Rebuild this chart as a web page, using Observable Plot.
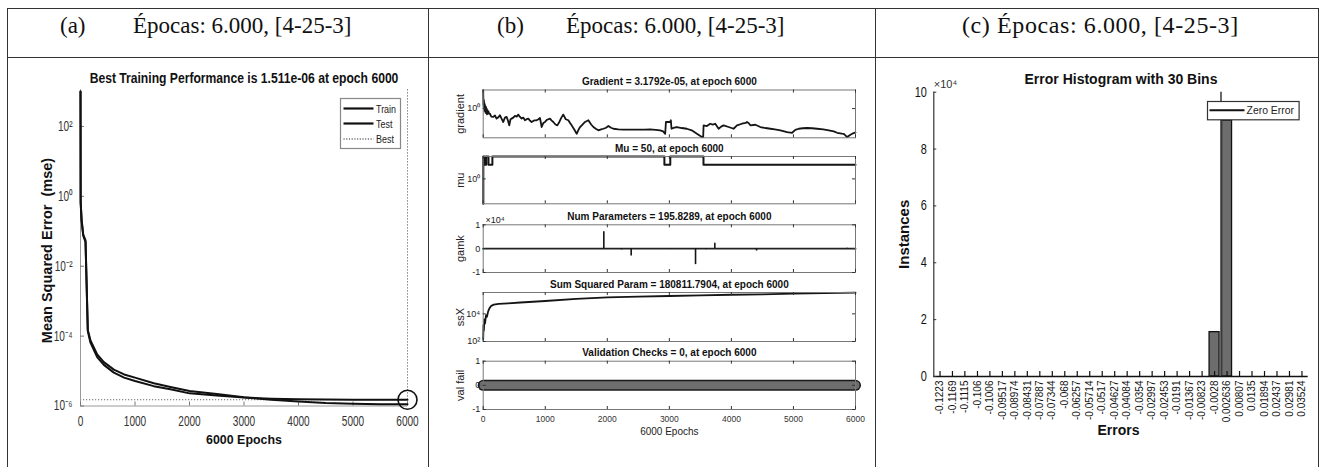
<!DOCTYPE html>
<html>
<head>
<meta charset="utf-8">
<script src="https://cdn.jsdelivr.net/npm/d3@7"></script>
<script src="https://cdn.jsdelivr.net/npm/@observablehq/plot@0.6"></script>
<style>
  html, body { margin: 0; padding: 0; background: #fff; }
  #page { position: relative; width: 1320px; height: 467px; overflow: hidden; background: #fff; }
  .layer { position: absolute; left: 0; top: 0; }
  .hline { position: absolute; height: 0; border-top: 1px solid #333; }
  .vline { position: absolute; width: 0; border-left: 1px solid #333; }
  .head { position: absolute; font-family: "Liberation Serif", "Times New Roman", serif; font-size: 23px; line-height: 26px; color: #111; white-space: nowrap; }
  .leg { position: absolute; }
</style>
</head>
<body>
<div id="page"></div>
<script>
// ================= DATA =================
const panelTags = ["(a)", "(b)", "(c)"];
const panelCaption = "Épocas: 6.000, [4-25-3]";

// ---- (a) training performance ----
const perfTitle = "Best Training Performance is 1.511e-06 at epoch 6000";
const perfYLabel = "Mean Squared Error\u00a0 (mse)";
const perfXLabel = "6000 Epochs";
const perfLegend = ["Train", "Test", "Best"];
const perfEpochs = [0, 3, 20, 50, 92, 134, 183, 306, 428, 612, 800, 1000, 1345, 1650, 2000, 2500, 3000, 3500, 4000, 4500, 5000, 5500, 6000];
const trainPerf  = [1000, 0.65, 0.2, 0.075, 0.05, 1.4e-4, 6.5e-5, 2.5e-5, 1.5e-5, 9e-6, 6.5e-6, 5.2e-6, 3.7e-6, 3e-6, 2.3e-6, 2e-6, 1.75e-6, 1.62e-6, 1.55e-6, 1.53e-6, 1.52e-6, 1.515e-6, 1.511e-6];
const testPerf   = [1000, 0.7, 0.22, 0.08, 0.055, 1.5e-4, 7.5e-5, 3e-5, 1.8e-5, 1.1e-5, 8e-6, 6.5e-6, 4.5e-6, 3.5e-6, 2.7e-6, 2.2e-6, 1.78e-6, 1.5e-6, 1.35e-6, 1.22e-6, 1.16e-6, 1.13e-6, 1.12e-6];
const bestEpoch = 6000;
const bestPerf = 1.511e-6;
const perfYTicks = [1e2, 1e0, 1e-2, 1e-4, 1e-6];
const perfYTickLabels = ["10²", "10⁰", "10⁻²", "10⁻⁴", "10⁻⁶"];
const epochTicks = [0, 1000, 2000, 3000, 4000, 5000, 6000];

// ---- (b) training state ----
const stateTitles = [
  "Gradient = 3.1792e-05, at epoch 6000",
  "Mu = 50, at epoch 6000",
  "Num Parameters = 195.8289, at epoch 6000",
  "Sum Squared Param = 180811.7904, at epoch 6000",
  "Validation Checks = 0, at epoch 6000"
];
const stateYLabels = ["gradient", "mu", "gamk", "ssX", "val fail"];
const stateXLabel = "6000 Epochs";

const gradEpochs = [0, 2, 4, 6, 9, 12, 15, 18, 22, 26, 30, 35, 40, 45, 50, 56, 62, 68, 75, 85, 95, 108, 130, 161, 190, 215, 240, 269, 300, 323, 350, 377, 400, 420, 440, 457, 485, 511, 540, 565, 590, 619, 645, 673, 700, 727, 755, 780, 820, 861, 890, 915, 942, 970, 996, 1030, 1076, 1100, 1130, 1165, 1195, 1227, 1260, 1291, 1330, 1372, 1400, 1426, 1470, 1507, 1535, 1561, 1600, 1641, 1695, 1740, 1776, 1820, 1857, 1900, 1937, 1980, 2018, 2060, 2099, 2180, 2260, 2400, 2600, 2691, 2780, 2852, 2900, 2933, 2945, 3013, 3024, 3035, 3080, 3121, 3200, 3282, 3360, 3444, 3525, 3545, 3552, 3605, 3659, 3700, 3740, 3794, 3835, 3874, 3955, 4035, 4090, 4170, 4230, 4251, 4280, 4305, 4386, 4466, 4550, 4628, 4700, 4789, 4897, 4978, 5030, 5085, 5150, 5220, 5300, 5381, 5480, 5570, 5650, 5704, 5780, 5812, 5865, 5919, 5960, 6000];
const gradValues = [3000, 80, 5, 60, 1.5, 30, 0.8, 12, 0.4, 6, 0.3, 3, 0.15, 2, 0.2, 1, 0.08, 0.5, 0.12, 0.3, 0.1, 0.11, 0.03, 0.027, 0.05, 0.013, 0.02, 0.056, 0.01, 0.003, 0.02, 0.027, 0.005, 7e-4, 0.01, 0.013, 0.02, 0.042, 0.03, 0.074, 0.03, 0.013, 0.02, 0.0063, 0.01, 0.013, 0.005, 0.003, 0.006, 0.0063, 0.01, 0.017, 3.4e-4, 0.002, 0.003, 0.008, 0.013, 0.006, 0.003, 0.001, 7e-4, 0.003, 0.02, 0.074, 0.01, 0.0063, 0.002, 7e-4, 1e-4, 1.8e-5, 1e-4, 3.4e-4, 0.001, 0.003, 0.0063, 0.001, 3.4e-4, 1.5e-4, 8e-5, 1.2e-4, 1.6e-4, 2.5e-4, 5.2e-4, 2.5e-4, 1.6e-4, 1.2e-4, 1.05e-4, 1.05e-4, 1.1e-4, 1.2e-4, 1e-4, 8e-5, 5e-5, 1.8e-5, 0.003, 0.003, 0.0063, 1.6e-4, 2.5e-4, 3.4e-4, 2.2e-4, 1.6e-4, 8e-5, 1.8e-5, 4.3e-6, 4.3e-6, 7e-4, 5.2e-4, 0.0014, 0.001, 0.0014, 1.6e-4, 4e-4, 7e-4, 3.4e-4, 1.6e-4, 7e-4, 0.0014, 0.002, 0.003, 0.0018, 7e-4, 9e-4, 3.4e-4, 2.2e-4, 1.6e-4, 1.2e-4, 8e-5, 3.8e-5, 2.8e-5, 1e-4, 1.6e-4, 2e-4, 2.2e-4, 2e-4, 1.6e-4, 1.2e-4, 8e-5, 5e-5, 2.8e-5, 2e-5, 1.8e-5, 4.3e-6, 1.2e-5, 2.2e-5, 3.18e-5];
const gradTicks = [1];
const gradTickLabels = ["10⁰"];

const muEpochs = [0, 2, 27, 48, 85, 148, 2920, 3015, 3550, 6000];
const muValues = [0.001, 500, 50, 500, 50, 500, 50, 500, 50, 50];
const muTicks = [1];
const muTickLabels = ["10⁰"];

const gamkBaseEpochs = [0, 6000];
const gamkBaseValues = [0, 0];
const gamkSpikeEpochs = [1944, 2229, 2385, 3019, 3422, 3594, 3733, 4405, 5866];
const gamkSpikeValues = [7100, -500, -3100, -150, -6700, -400, 2300, -1000, 200];
const gamkTicks = [-1e4, 0, 1e4];
const gamkTickLabels = ["-1", "0", "1"];
const gamkExponent = "×10⁴";

const ssxEpochs = [0, 5, 10, 20, 30, 45, 60, 80, 100, 130, 170, 250, 400, 600, 1000, 1500, 2000, 2500, 3000, 3500, 4000, 4500, 5000, 5500, 6000];
const ssxValues = [150, 1500, 600, 4000, 2000, 8000, 6000, 15000, 25000, 38000, 46000, 52000, 58000, 66000, 85000, 120000, 155000, 175000, 195000, 215000, 240000, 260000, 290000, 315000, 340000];
const ssxTicks = [1e2, 1e4];
const ssxTickLabels = ["10²", "10⁴"];

const valEpochs = [0, 6000];
const valFail = [0, 0];
const valTicks = [-1, 0, 1];
const valTickLabels = ["-1", "0", "1"];

// ---- (c) error histogram ----
const histTitle = "Error Histogram with 30 Bins";
const histYLabel = "Instances";
const histXLabel = "Errors";
const histExponent = "×10⁴";
const zeroErrorLabel = "Zero Error";
const errorBinLabels = ["-0.1223", "-0.1169", "-0.1115", "-0.106", "-0.1006", "-0.09517", "-0.08974", "-0.08431", "-0.07887", "-0.07344", "-0.068", "-0.06257", "-0.05714", "-0.0517", "-0.04627", "-0.04084", "-0.0354", "-0.02997", "-0.02453", "-0.0191", "-0.01367", "-0.00823", "-0.0028", "0.002636", "0.00807", "0.0135", "0.01894", "0.02437", "0.02981", "0.03524"];
const errorCounts = [0, 0, 0, 0, 0, 0, 0, 0, 0, 0, 0, 0, 0, 0, 0, 0, 0, 0, 0, 0, 0, 0, 15600, 90000, 0, 0, 0, 0, 0, 0];
const histYTicks = [0, 2e4, 4e4, 6e4, 8e4, 1e5];
const histYTickLabels = ["0", "2", "4", "6", "8", "10"];

// ================= LAYOUT HELPERS =================
const FONT = '"Liberation Sans", Arial, Helvetica, sans-serif';
const page = document.getElementById("page");
const PW = 1320, PH = 467;
const baseStyle = {fontFamily: FONT, background: "transparent", overflow: "visible", color: "#111"};
function frameBox(left, top, right, bottom) {
  return {width: PW, height: PH, marginLeft: left, marginTop: top, marginRight: PW - right, marginBottom: PH - bottom};
}
function place(node) { node.classList.add("layer"); page.appendChild(node); return node; }
function fmt(ticks, labels) { return d => labels[ticks.indexOf(d)]; }
// horizontally narrow the (non-rotated) texts of a plot, mimicking the condensed MATLAB font
function squeeze(svg, factorOf) {
  svg.querySelectorAll("text").forEach(t => {
    const tr = t.getAttribute("transform") || "";
    if (/rotate/.test(tr)) return;
    const f = factorOf(t.textContent);
    if (!f || f === 1) return;
    if (tr) t.setAttribute("transform", tr + ` scale(${f},1)`);
    else {
      const x = +t.getAttribute("x") || 0, y = +t.getAttribute("y") || 0;
      t.removeAttribute("x"); t.removeAttribute("y");
      t.setAttribute("transform", `translate(${x},${y}) scale(${f},1)`);
    }
  });
}
function div(cls, css, text) {
  const d = document.createElement("div");
  d.className = cls; Object.assign(d.style, css);
  if (text != null) d.textContent = text;
  page.appendChild(d); return d;
}

// ================= TABLE =================
div("hline", {left: "7px", top: "8px", width: "1312px"});
div("hline", {left: "7px", top: "57px", width: "1312px"});
[7, 428, 875, 1318].forEach(x => div("vline", {left: x + "px", top: "8px", height: "460px"}));
div("head", {left: "60px", top: "12.5px"}, panelTags[0]);
div("head", {left: "133px", top: "12.5px"}, panelCaption);
div("head", {left: "497px", top: "12.5px"}, panelTags[1]);
div("head", {left: "566px", top: "12.5px"}, panelCaption);
div("head", {left: "962px", top: "12px", fontSize: "24px", letterSpacing: "0.6px"}, panelTags[2] + " " + panelCaption);

// ================= PANEL (a) =================
{
  const L = 80, T = 89.3, R = 407, B = 405.5, W = R - L, H = B - T;
  const rows = perfEpochs.flatMap((e, i) => [
    {epoch: e, mse: trainPerf[i], set: perfLegend[0]},
    {epoch: e, mse: testPerf[i], set: perfLegend[1]}
  ]);
  const svg = place(Plot.plot({
    ...frameBox(L, T, R, B),
    style: baseStyle,
    x: {domain: [0, 6000]},
    y: {type: "log", domain: [1e-6, 1.12e3]},
    marks: [
      Plot.ruleY([bestPerf], {stroke: "#555", strokeWidth: 0.9, strokeDasharray: "1.2,1.8"}),
      Plot.ruleX([bestEpoch], {stroke: "#555", strokeWidth: 0.9, strokeDasharray: "1.2,1.8"}),
      Plot.ruleX([0], {stroke: "#999"}),
      Plot.ruleY([1e-6], {stroke: "#999"}),
      Plot.tickX(epochTicks, {x: d => d, insetTop: H - 4, stroke: "#777"}),
      Plot.tickY(perfYTicks, {y: d => d, insetRight: W - 4, stroke: "#777"}),
      Plot.line(rows, {x: "epoch", y: "mse", z: "set", stroke: "#111", strokeWidth: 2}),
      Plot.dot([{epoch: bestEpoch, mse: bestPerf}], {x: "epoch", y: "mse", r: 9.5, stroke: "#111", strokeWidth: 1.6, fill: "none"}),
      Plot.axisX(epochTicks, {tickSize: 0, tickPadding: 10.5, fontSize: 14, fill: "#333", label: null, tickFormat: d => String(d)}),
      Plot.axisY(perfYTicks, {tickSize: 0, tickPadding: 8, fontSize: 14, fill: "#333", label: null, tickFormat: fmt(perfYTicks, perfYTickLabels)}),
      Plot.text([perfTitle], {frameAnchor: "top", textAnchor: "middle", lineAnchor: "middle", dy: -11.8, fontSize: 15, fontWeight: "bold", fill: "#111"}),
      Plot.text([perfYLabel], {frameAnchor: "left", textAnchor: "middle", lineAnchor: "middle", rotate: -90, dx: -33, dy: 2.6, fontSize: 14.5, fontWeight: "bold", fill: "#111"}),
      Plot.text([perfXLabel], {frameAnchor: "bottom", textAnchor: "middle", lineAnchor: "middle", dy: 34, fontSize: 13.5, fontWeight: "bold", fill: "#111"})
    ]
  }));
  squeeze(svg, s => s === perfTitle ? 0.81 : s === perfXLabel ? 0.92 : 0.72);
}

// ================= PANEL (b) =================
{
  const BL = 482.7, BR = 855;
  const tops = [89.5, 156, 224.3, 292, 360.7];
  const bottoms = [137.3, 203.3, 272, 341, 409];
  function statePlot(k, y, dataMarks, ticks, labels, showX, extra = []) {
    const W = BR - BL, H = bottoms[k] - tops[k];
    const marks = [
      ...dataMarks,
      Plot.frame({stroke: "#777", strokeWidth: 1}),
      Plot.tickX(epochTicks, {x: d => d, insetTop: H - 3, stroke: "#333"}),
      Plot.tickX(epochTicks, {x: d => d, insetBottom: H - 3, stroke: "#333"}),
      Plot.tickY(ticks, {y: d => d, insetRight: W - 3, stroke: "#333"}),
      Plot.tickY(ticks, {y: d => d, insetLeft: W - 3, stroke: "#333"}),
      Plot.axisY(ticks, {tickSize: 0, tickPadding: 3, fontSize: 9, fill: "#222", label: null, tickFormat: fmt(ticks, labels)}),
      Plot.text([stateTitles[k]], {frameAnchor: "top", textAnchor: "middle", lineAnchor: "middle", dy: -8, fontSize: 10, fontWeight: "bold", fill: "#111"}),
      Plot.text([stateYLabels[k]], {frameAnchor: "left", textAnchor: "middle", lineAnchor: "middle", rotate: -90, dx: -22.7, fontSize: 11, fill: "#222"}),
      ...extra
    ];
    if (showX) {
      marks.push(Plot.axisX(epochTicks, {tickSize: 0, tickPadding: 6, fontSize: 8.5, fill: "#333", label: null, tickFormat: d => String(d)}));
      marks.push(Plot.text([stateXLabel], {frameAnchor: "bottom", textAnchor: "middle", lineAnchor: "middle", dy: 22, fontSize: 10, fill: "#222"}));
    }
    return place(Plot.plot({
      ...frameBox(BL, tops[k], BR, bottoms[k]),
      style: baseStyle,
      x: {domain: [0, 6000], axis: showX ? undefined : null},
      y,
      marks
    }));
  }
  // gradient
  statePlot(0, {type: "log", domain: [3.16e-6, 3162]},
    [Plot.line(gradEpochs, {x: d => d, y: (d, i) => gradValues[i], stroke: "#151515", strokeWidth: 1.8})],
    gradTicks, gradTickLabels, false);
  // mu
  statePlot(1, {type: "log", domain: [1e-3, 500]},
    [Plot.line(muEpochs, {x: d => d, y: (d, i) => muValues[i], curve: "step-after", stroke: "#151515", strokeWidth: 2})],
    muTicks, muTickLabels, false);
  // gamk
  statePlot(2, {domain: [-1e4, 1e4]},
    [
      Plot.line(gamkBaseEpochs, {x: d => d, y: (d, i) => gamkBaseValues[i], stroke: "#222", strokeWidth: 1.8}),
      Plot.ruleX(gamkSpikeEpochs, {x: d => d, y1: () => 0, y2: (d, i) => gamkSpikeValues[i], stroke: "#151515", strokeWidth: 1.6})
    ],
    gamkTicks, gamkTickLabels, false,
    [Plot.text([gamkExponent], {frameAnchor: "top-left", textAnchor: "start", lineAnchor: "middle", dx: 2.3, dy: -4.3, fontSize: 9, fill: "#222"})]);
  // ssX
  statePlot(3, {type: "log", domain: [100, 3.5e5]},
    [Plot.line(ssxEpochs, {x: d => d, y: (d, i) => ssxValues[i], stroke: "#151515", strokeWidth: 1.8})],
    ssxTicks, ssxTickLabels, false);
  // val fail
  statePlot(4, {domain: [-1, 1]},
    [
      Plot.line(valEpochs, {x: d => d, y: (d, i) => valFail[i], stroke: "#1a1a1a", strokeWidth: 11, strokeLinecap: "round"}),
      Plot.line(valEpochs, {x: d => d, y: (d, i) => valFail[i], stroke: "#6e6e6e", strokeWidth: 8, strokeLinecap: "round"})
    ],
    valTicks, valTickLabels, true);
}

// ================= PANEL (c) =================
{
  const L = 933.3, T = 91.7, R = 1307.7, B = 376, W = R - L, H = B - T;
  const centers = errorBinLabels.map(Number);
  const step = (centers[centers.length - 1] - centers[0]) / (centers.length - 1);
  const hist = centers.map((c, i) => ({center: c, count: errorCounts[i]}));
  const labelOf = new Map(centers.map((c, i) => [c, errorBinLabels[i]]));
  const xDomain = [centers[0] - step / 2, centers[centers.length - 1] + step / 2];
  const svg = place(Plot.plot({
    ...frameBox(L, T, R, B),
    style: baseStyle,
    x: {domain: xDomain},
    y: {domain: [0, 1e5]},
    marks: [
      Plot.rectY(hist, {filter: d => d.count > 0, x1: d => d.center - 0.4 * step, x2: d => d.center + 0.4 * step, y: "count", fill: "#6d6d6d", stroke: "#111", strokeWidth: 1.3}),
      Plot.ruleX([0], {stroke: "#444", strokeWidth: 1.6}),
      Plot.ruleX([xDomain[0]], {stroke: "#333", strokeWidth: 1.2}),
      Plot.ruleY([0], {stroke: "#111", strokeWidth: 1.6}),
      Plot.tickX(centers, {x: d => d, insetTop: H - 5, stroke: "#111", strokeWidth: 1.2}),
      Plot.tickY(histYTicks, {y: d => d, insetRight: W - 3, stroke: "#333"}),
      Plot.axisX(centers, {tickSize: 0, tickPadding: 4, tickRotate: -90, fontSize: 10, fill: "#111", label: null, tickFormat: d => labelOf.get(d)}),
      Plot.axisY(histYTicks, {tickSize: 0, tickPadding: 7, fontSize: 14, fill: "#111", label: null, tickFormat: fmt(histYTicks, histYTickLabels)}),
      Plot.text([histTitle], {frameAnchor: "top", textAnchor: "middle", lineAnchor: "middle", dy: -12.7, fontSize: 14, fontWeight: "bold", fill: "#111"}),
      Plot.text([histExponent], {frameAnchor: "top-left", textAnchor: "start", lineAnchor: "middle", dx: 0, dy: -8.2, fontSize: 11, fill: "#333"}),
      Plot.text([histYLabel], {frameAnchor: "left", textAnchor: "middle", lineAnchor: "middle", rotate: -90, dx: -30, fontSize: 15, fontWeight: "bold", fill: "#111"}),
      Plot.text([histXLabel], {frameAnchor: "bottom", textAnchor: "middle", lineAnchor: "middle", dx: -2.5, dy: 54, fontSize: 14, fontWeight: "bold", fill: "#111"})
    ]
  }));
  squeeze(svg, s => histYTickLabels.includes(s) ? 0.78 : 1);
}

// ================= IN-PLOT LEGENDS =================
function legend(left, top, w, h, border, entries) {
  const s = d3.create("svg").attr("class", "leg").attr("width", w + 1).attr("height", h + 1)
    .style("left", (left - 0.5) + "px").style("top", (top - 0.5) + "px")
    .style("font-family", FONT).style("overflow", "visible");
  s.append("rect").attr("x", 0.5).attr("y", 0.5).attr("width", w).attr("height", h)
    .attr("fill", "#fff").attr("stroke", border).attr("stroke-width", 1.2);
  for (const e of entries) {
    s.append("line").attr("x1", e.x1).attr("x2", e.x2).attr("y1", e.y).attr("y2", e.y)
      .attr("stroke", "#111").attr("stroke-width", e.sw).attr("stroke-dasharray", e.dash || null);
    s.append("text").attr("transform", `translate(${e.tx},${e.y}) scale(${e.sx},1)`)
      .attr("dy", "0.35em").attr("font-size", e.fs).attr("fill", "#222").text(e.label);
  }
  page.appendChild(s.node());
}
legend(340, 98.3, 60, 50, "#888", [
  {label: perfLegend[0], y: 10.5, x1: 3.5, x2: 33.5, tx: 36, sw: 2.2, fs: 11.5, sx: 0.78},
  {label: perfLegend[1], y: 25.5, x1: 3.5, x2: 33.5, tx: 36, sw: 2.2, fs: 11.5, sx: 0.78},
  {label: perfLegend[2], y: 41, x1: 3.5, x2: 33.5, tx: 36, sw: 0.9, dash: "1.2,1.5", fs: 11.5, sx: 0.78}
]);
legend(1207.7, 101, 91.6, 18.3, "#333", [
  {label: zeroErrorLabel, y: 9.2, x1: 2.5, x2: 37.5, tx: 39.5, sw: 2, fs: 11, sx: 0.95}
]);
</script>
</body>
</html>
